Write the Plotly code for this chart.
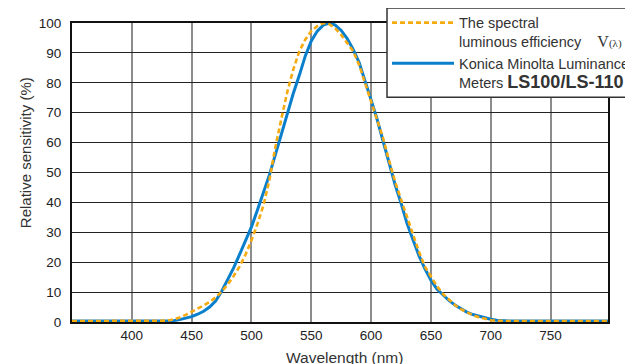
import plotly.graph_objects as go

wavelength = list(range(350, 805, 5))

v_lambda = ([0.3] * 16 +  # 350..425
            [0.45, 0.9, 1.5, 2.4, 3.4, 4.4, 5.5, 6.7, 8.2, 10.1,   # 430..475
             12.5, 15.3, 18.5, 22.5, 27.3, 32.8, 39.0, 47.5, 58.5, 68.0,  # 480..525
             77.0, 84.5, 90.5, 94.5, 97.3, 99.0, 100.0, 99.6, 98.2, 96.0,  # 530..575
             93.5, 90.6, 86.0, 80.0, 74.0, 68.2, 61.5, 54.0, 47.0, 41.0,  # 580..625
             35.0, 29.0, 23.5, 18.5, 15.0, 12.0, 9.4, 7.4, 5.7, 4.3,      # 630..675
             3.2, 2.3, 1.6, 1.0, 0.6, 0.4] +                              # 680..705
            [0.3] * 19)                                                   # 710..800

ls100 = ([0.3] * 17 +  # 350..430
         [0.45, 0.8, 1.2, 1.8, 2.6, 3.6, 5.0, 7.0, 10.2,               # 435..475
          14.0, 18.0, 22.5, 27.0, 31.8, 37.5, 43.2, 49.2, 56.0, 63.0,  # 480..525
          70.0, 76.5, 82.5, 89.0, 94.0, 97.3, 99.3, 100.0, 99.3, 97.5, # 530..575
          94.8, 91.2, 86.8, 80.8, 74.3, 67.8, 60.5, 53.0, 46.0, 39.8,  # 580..625
          33.0, 27.5, 22.2, 17.8, 14.0, 11.0, 9.0, 7.2, 5.7, 4.4,      # 630..675
          3.3, 2.5, 1.9, 1.4, 0.9, 0.6, 0.4] +                         # 680..710
         [0.3] * 18)                                                   # 715..800

x_ticks = [400, 450, 500, 550, 600, 650, 700, 750]
y_ticks = list(range(0, 101, 10))

name_v = ("The spectral<br>luminous efficiency    "
          "<span style=\"font-size:16px;font-family:Liberation Serif\">V</span>"
          "<span style=\"font-size:11px;font-family:Liberation Serif\">(λ)</span>")
name_ls = ("Konica Minolta Luminance<br>Meters "
           "<span style=\"font-size:18px\"><b>LS100/LS-110</b></span>")

fig = go.Figure()
fig.add_trace(go.Scatter(x=wavelength, y=ls100, mode="lines", name=name_ls,
                         line=dict(color="#0A7FCC", width=3)))
fig.add_trace(go.Scatter(x=wavelength, y=v_lambda, mode="lines", name=name_v,
                         line=dict(color="#F5AA10", width=2.6, dash="5px,3px")))

# page has an 8px body margin; figure sized to fit the 633x364 window
fig.update_layout(
    width=625, height=356,
    margin=dict(l=64, r=25, t=15, b=42, autoexpand=False),
    paper_bgcolor="white", plot_bgcolor="white",
    font=dict(family="Liberation Sans, Arial, sans-serif", size=13.5, color="#222"),
    showlegend=True,
    legend=dict(x=0.5877, y=1.0546, xanchor="left", yanchor="top",
                traceorder="reversed", valign="top",
                bgcolor="rgba(0,0,0,0)", borderwidth=0,
                itemwidth=62, tracegroupgap=0,
                font=dict(family="Liberation Sans, Arial", size=14.5, color="#333")),
    xaxis=dict(range=[350, 798], tickvals=x_ticks, showgrid=True,
               gridcolor="#8c8c8c", gridwidth=1.5,
               showline=True, linecolor="#111", linewidth=2, mirror=True,
               ticks="",
               zeroline=False, layer="below traces"),
    yaxis=dict(range=[0, 100], tickvals=y_ticks, showgrid=True,
               gridcolor="#222", gridwidth=1,
               showline=True, linecolor="#111", linewidth=2, mirror=True,
               ticks="outside", ticklen=6, tickcolor="rgba(0,0,0,0)",
               zeroline=False, layer="below traces"),
    shapes=[
        dict(type="rect", xref="paper", yref="paper", layer="above",
             x0=0.5877, x1=1.07, y0=0.752, y1=1.0502,
             fillcolor="white", line=dict(color="#333", width=1.5)),
    ],
    annotations=[
        dict(text="Relative sensitivity (%)", textangle=-90, showarrow=False,
             xref="paper", yref="paper", x=-0.0877, y=0.568,
             xanchor="center", yanchor="middle",
             font=dict(size=15, color="#333")),
        dict(text="Wavelength (nm)", showarrow=False,
             xref="paper", yref="paper", x=0.509, y=-0.118,
             xanchor="center", yanchor="middle",
             font=dict(size=15.5, color="#333")),
    ],
)

fig.write_html("out.html")
